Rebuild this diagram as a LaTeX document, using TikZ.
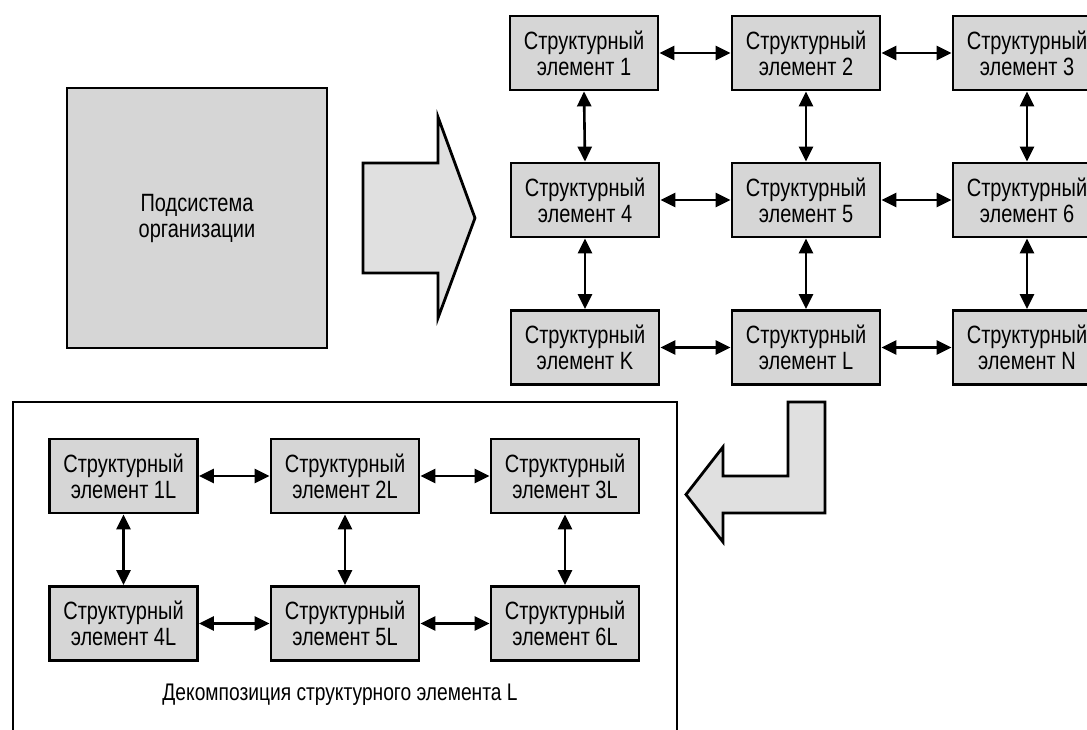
\documentclass[tikz,border=0pt]{standalone}
\usepackage{fontspec}
\setmainfont{Liberation Sans}[FakeStretch=0.8]
\usetikzlibrary{arrows.meta}
\definecolor{boxgray}{RGB}{214,214,214}
\definecolor{arrgray}{RGB}{224,224,224}
\tikzset{
  elbox/.style={draw=black, line width=2.8pt, fill=boxgray, minimum width=148pt, minimum height=74pt,
    inner sep=0pt, align=center, font=\fontsize{25}{26}\selectfont},
  biarrow/.style={line width=2.6pt, {Triangle[length=15pt,width=14pt]}-{Triangle[length=15pt,width=14pt]}},
  bigarrow/.style={draw=black, line width=2.8pt, fill=arrgray, line join=miter},
  frame/.style={draw=black, line width=2.2pt},
}
\begin{document}
\begin{tikzpicture}[x=1pt,y=-1pt]
\useasboundingbox (0,0) rectangle (1087,729);
% subsystem
\node[elbox, minimum width=260pt, minimum height=260pt] (sub) at (197,218) {Подсистема\\организации};
% big right arrow
\draw[bigarrow] (363,163) -- (438,163) -- (438,117) -- (475,218) -- (438,318) -- (438,273) -- (363,273) -- cycle;
% top grid
\node[elbox] (b1) at (584,53) {Структурный\\элемент 1};
\node[elbox] (b2) at (806,53) {Структурный\\элемент 2};
\node[elbox] (b3) at (1027,53) {Структурный\\элемент 3};
\node[elbox] (b4) at (585,200) {Структурный\\элемент 4};
\node[elbox] (b5) at (806,200) {Структурный\\элемент 5};
\node[elbox] (b6) at (1027,200) {Структурный\\элемент 6};
\node[elbox] (bK) at (585,347.5) {Структурный\\элемент K};
\node[elbox] (bL) at (806,347.5) {Структурный\\элемент L};
\node[elbox] (bN) at (1027,347.5) {Структурный\\элемент N};
\draw[biarrow] (b1.east) -- (b2.west);
\draw[biarrow] (b2.east) -- (b3.west);
\draw[biarrow] (b4.east) -- (b5.west);
\draw[biarrow] (b5.east) -- (b6.west);
\draw[biarrow] (bK.east) -- (bL.west);
\draw[biarrow] (bL.east) -- (bN.west);
\draw[biarrow] (b1.south) -- (b4.north);
\draw[biarrow] (b2.south) -- (b5.north);
\draw[biarrow] (b3.south) -- (b6.north);
\draw[biarrow] (b4.south) -- (bK.north);
\draw[biarrow] (b5.south) -- (bL.north);
\draw[biarrow] (b6.south) -- (bN.north);
% L-shaped arrow
\draw[bigarrow] (788,402) -- (825,402) -- (825,513) -- (723,513) -- (723,542) -- (686,494.5) -- (723,447) -- (723,476) -- (788,476) -- cycle;
% decomposition frame
\draw[frame] (13,740) -- (13,402) -- (677,402) -- (677,740);
\node[elbox] (l1) at (123.5,476) {Структурный\\элемент 1L};
\node[elbox] (l2) at (345,476) {Структурный\\элемент 2L};
\node[elbox] (l3) at (565,476) {Структурный\\элемент 3L};
\node[elbox] (l4) at (123.5,623.5) {Структурный\\элемент 4L};
\node[elbox] (l5) at (345,623.5) {Структурный\\элемент 5L};
\node[elbox] (l6) at (565,623.5) {Структурный\\элемент 6L};
\draw[biarrow] (l1.east) -- (l2.west);
\draw[biarrow] (l2.east) -- (l3.west);
\draw[biarrow] (l4.east) -- (l5.west);
\draw[biarrow] (l5.east) -- (l6.west);
\draw[biarrow] (l1.south) -- (l4.north);
\draw[biarrow] (l2.south) -- (l5.north);
\draw[biarrow] (l3.south) -- (l6.north);
\node[font=\fontsize{24}{26}\selectfont] (cap) at (340,695) {Декомпозиция структурного элемента L};
\end{tikzpicture}
\end{document}
